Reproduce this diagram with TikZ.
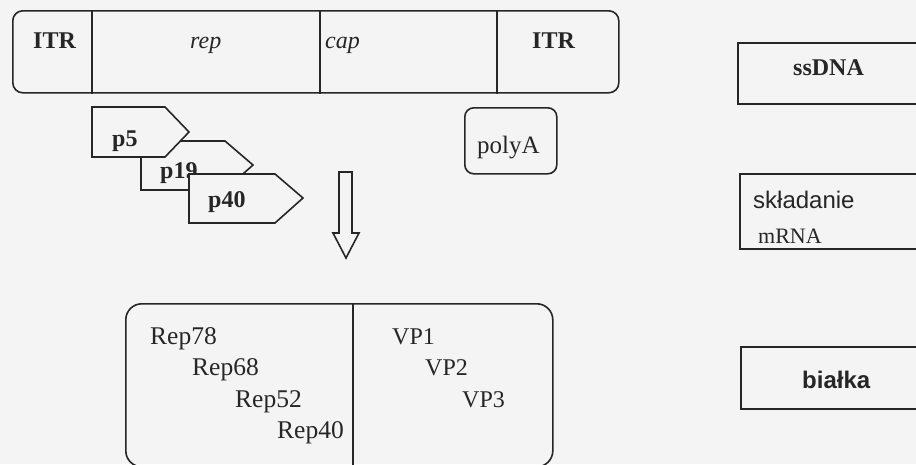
\documentclass[tikz,border=0pt]{standalone}
\usepackage{fontspec}
\setmainfont{Liberation Serif}
\setsansfont{Liberation Sans}
\definecolor{ln}{HTML}{262626}
\definecolor{bg}{HTML}{F4F4F4}

\begin{document}
\begin{tikzpicture}[x=1pt, y=-1pt,
  txt/.style={font=\fontsize{24}{28}\selectfont, inner sep=0pt, anchor=base west, text=ln},
  gbox/.style={draw=ln, line width=1.6pt, rounded corners=#1, anchor=north west, inner sep=0pt},
  rbox/.style={draw=ln, line width=1.8pt, anchor=north west, inner sep=0pt},
  prom/.style={draw=ln, fill=bg, line width=1.6pt},
  sep/.style={draw=ln, line width=1.5pt},
]
  \useasboundingbox (0,0) rectangle (916,464);
  \clip (0,0) rectangle (916,464);
  \fill[bg] (0,0) rectangle (916,464);

  \node[gbox=10pt, minimum width=606pt, minimum height=82pt] (genome) at (12,10) {};
  \coordinate (d1) at (92,0);
  \coordinate (d2) at (320,0);
  \coordinate (d3) at (497,0);
  \foreach \d in {d1,d2,d3} \draw[sep] (\d |- genome.north) -- (\d |- genome.south);
  \node[txt] (itrl) at (33,48) {\bfseries ITR};
  \node[txt] (rep) at (190,48) {\itshape rep};
  \node[txt] (cap) at (325,48) {\itshape cap};
  \node[txt] (itrr) at (532,48) {\bfseries ITR};

  \draw[prom] (141,141) -- (225,141) -- (253,165) -- (225,190) -- (141,190) -- cycle;
  \node[txt] (p19) at (160,178) {\bfseries p19};
  \draw[prom] (92,107) -- (165,107) -- (189,132) -- (165,157) -- (92,157) -- cycle;
  \node[txt] (p5) at (112,146) {\bfseries p5};
  \draw[prom] (189,174) -- (275,174) -- (303,198) -- (275,223) -- (189,223) -- cycle;
  \node[txt] (p40) at (208,207) {\bfseries p40};

  \draw[prom] (339,172) -- (352,172) -- (352,233) -- (359,233) -- (346,258) -- (333,233) -- (339,233) -- cycle;

  \node[gbox=9pt, minimum width=92pt, minimum height=66pt] (polyabox) at (464,107) {};
  \node[txt, font=\fontsize{25}{28}\selectfont] (polya) at (477,153) {polyA};

  \node[gbox=16pt, minimum width=427pt, minimum height=163pt] (proteins) at (125,303) {};
  \coordinate (d4) at (353,0);
  \draw[sep] (d4 |- proteins.north) -- (d4 |- proteins.south);
  \node[txt, font=\fontsize{25.5}{28}\selectfont] (rep78) at (150,344) {Rep78};
  \node[txt, font=\fontsize{25.5}{28}\selectfont] (rep68) at (192,375) {Rep68};
  \node[txt, font=\fontsize{25.5}{28}\selectfont] (rep52) at (235,407) {Rep52};
  \node[txt, font=\fontsize{25.5}{28}\selectfont] (rep40) at (277,438) {Rep40};
  \node[txt] (vp1) at (392,344) {VP1};
  \node[txt] (vp2) at (425,375) {VP2};
  \node[txt] (vp3) at (462,407) {VP3};

  \node[rbox, minimum width=190pt, minimum height=61pt] (ssbox) at (737,42) {};
  \node[txt] (ssdna) at (793,75) {\bfseries ssDNA};
  \node[rbox, minimum width=190pt, minimum height=75pt] (splbox) at (739,173) {};
  \node[txt, font=\sffamily\fontsize{24}{28}\selectfont] (spl) at (753,208) {składanie};
  \node[txt, font=\fontsize{22}{26}\selectfont] (mrna) at (758,243) {mRNA};
  \node[rbox, minimum width=190pt, minimum height=62pt] (protbox) at (740,346) {};
  \node[txt, font=\sffamily\bfseries\fontsize{24}{28}\selectfont] (bialka) at (802,388) {białka};
\end{tikzpicture}
\end{document}
